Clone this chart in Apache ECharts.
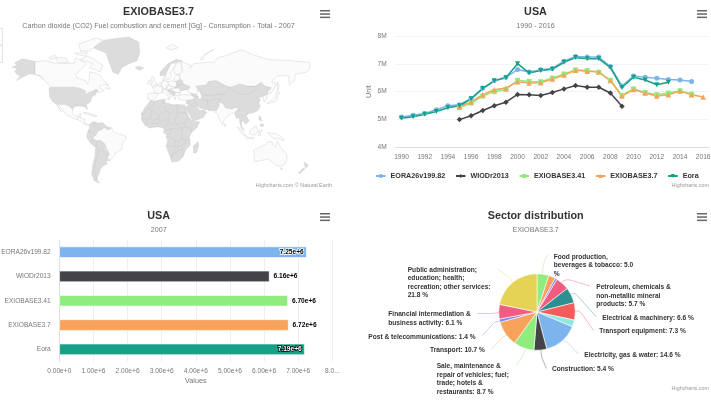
<!DOCTYPE html>
<html>
<head>
<meta charset="utf-8">
<title>USA CO2</title>
<script src="https://cdn.jsdelivr.net/npm/echarts@6/dist/echarts.min.js"></script>
<style>
  html, body { margin: 0; padding: 0; background: #fff; }
  .box { position: absolute; }
</style>
</head>
<body>
<div id="map" class="box" style="left:0;top:0;width:355px;height:200px"></div>
<div id="line" class="box" style="left:355px;top:0;width:356px;height:200px"></div>
<div id="bar" class="box" style="left:0;top:200px;width:355px;height:200px"></div>
<div id="pie" class="box" style="left:355px;top:200px;width:356px;height:200px"></div>
<script>
// line chart
const years = ['1990','1991','1992','1993','1994','1995','1996','1997','1998','1999','2000','2001','2002','2003','2004','2005','2006','2007','2008','2009','2010','2011','2012','2013','2014','2015','2016'];
const eora26 = [5.08,5.15,5.21,5.35,5.49,5.53,5.76,6.13,6.40,6.52,6.80,6.71,6.79,6.84,7.10,7.27,7.25,7.25,6.91,6.20,6.57,6.52,6.48,6.44,6.42,6.37,null];
const wiod = [null,null,null,null,null,4.99,5.13,5.32,5.49,5.62,5.90,5.89,5.86,5.97,6.10,6.22,6.16,6.16,5.95,5.47,null,null,null,null,null,null,null];
const exio341 = [null,null,null,null,null,5.42,5.59,5.84,6.00,6.08,6.41,6.37,6.36,6.49,6.64,6.78,6.76,6.70,6.41,5.86,6.10,5.97,5.89,5.95,6.03,5.91,null];
const exio37 = [null,null,null,null,null,5.47,5.63,5.89,6.07,6.13,6.36,6.31,6.32,6.46,6.60,6.77,6.74,6.72,6.40,5.84,6.08,5.95,5.84,5.89,6.02,5.89,5.81];
const eora = [5.04,5.09,5.18,5.28,5.42,5.49,5.74,6.11,6.39,6.50,7.01,6.67,6.76,6.81,7.06,7.23,7.19,7.19,6.87,6.15,6.52,6.42,6.25,6.34,null,null,null];

// bar chart
const barNames = ['EORA26v199.82','WIODr2013','EXIOBASE3.41','EXIOBASE3.7','Eora'];
const barValues = [7.25e6,6.16e6,6.70e6,6.72e6,7.19e6];
const barColors = ['#7cb5ec','#434348','#90ed7d','#f7a35c','#16a085'];

// pie chart, clockwise from the top
const sectorLabels = [
  'Food production,\nbeverages & tobacco: 5.0\n%','','',
  'Petroleum, chemicals &\nnon-metallic mineral\nproducts: 5.7 %',
  'Electrical & machinery: 6.6 %','Transport equipment: 7.3 %','',
  'Electricity, gas & water: 14.6 %','Construction: 5.4 %',
  'Sale, maintenance &\nrepair of vehicles; fuel;\ntrade; hotels &\nrestaurants: 8.7 %',
  'Transport: 10.7 %','Post & telecommunications: 1.4 %',
  'Financial intermediation &\nbusiness activity: 6.1 %',
  'Public administration;\neducation; health;\nrecreation; other services:\n21.8 %'
];
const sectorValues = [5.0,2.9,0.9,5.7,6.6,7.3,2.9,14.6,5.4,8.7,10.7,1.4,6.1,21.8];
const sectorColors = ['#90ed7d','#f7a35c','#8085e9','#f15c80','#2b908f','#f45b5b','#91e8e1','#7cb5ec','#434348','#90ed7d','#f7a35c','#8085e9','#f15c80','#e4d354'];
// label anchor [x, y of the block centre, align] and leader points for each slice
const pieLabelSpots = [
  [198.7,65.2,'left'],null,null,[241.3,95.7,'left'],[247.3,118.3,'left'],[244.3,131.3,'left'],null,
  [229.3,155,'left'],[197,169.3,'left'],[81.7,179,'left'],[75,150,'left'],[13.3,137,'left'],[33.3,118.5,'left'],[52.7,82.8,'left']
];
const pieLeaders = [
  [[187.5,74],[188.5,63],[192.5,55]],null,null,
  [[206.5,82.5],[212,79],[235,86]],
  [[216.5,94],[220,93],[241.5,117]],
  [[220,111],[225,111],[238.5,130.5]],null,
  [[208.5,140.5],[212,142],[223.5,154]],
  [[186,150],[186.5,157],[191.5,168.5]],
  [[170,150],[168.5,155],[161,166]],
  [[151.5,135],[148,137],[136.5,149]],
  [[145,121.5],[140,121.5],[127.5,135.5]],
  [[143.5,112.5],[138.5,113.5],[122.5,113.5]],
  [[157.5,82.5],[155,78],[142.5,69]]
];

// map regions in lon/lat, split by fill shade
const mapGrey = {
  Alaska: [[-168,65.5],[-162,67],[-165,68.5],[-156,71.3],[-141,69.6],[-141,60],[-135,59],[-130,55],[-134,58],[-140,60],[-148,60.5],[-152,59],[-158,57],[-163,55],[-158,59],[-162,60],[-165,62.5],[-161,64.5]],
  USA: [[-123,49],[-95,49],[-89,48],[-82,45.5],[-83,42],[-79,43.5],[-75,45],[-69,47.2],[-67,45],[-70,43.5],[-70,41.7],[-74,40.5],[-76,37],[-75.5,35.2],[-81,31.5],[-80,26],[-81,25.2],[-83,29],[-89,30],[-94,29.5],[-97,27.5],[-97.2,26],[-101,29.7],[-106,31.8],[-111,31.4],[-117,32.5],[-120.5,34.5],[-124,40],[-124.7,48.3]],
  Greenland: [[-73,78],[-60,82],[-32,83.5],[-20,81],[-19,75],[-22,70],[-32,68],[-40,65],[-44,60],[-50,62],[-54,68],[-58,75]],
  Iceland: [[-24,65.5],[-19,66.3],[-14,65],[-18,63.5],[-22,64]],
  Colombia: [[-77.3,8.5],[-75,11],[-72,12],[-72,7.5],[-67.5,6],[-67,1.5],[-70,-4],[-75,0],[-79,1.5],[-77.5,4]],
  Venezuela: [[-72,12],[-68,10.5],[-62,10.7],[-57,6],[-51.5,4.5],[-56,2],[-60,5],[-64,2],[-67,1.5],[-67.5,6],[-72,7.5]],
  Peru: [[-79,1.5],[-75,0],[-70,-4],[-74,-7.5],[-69,-11],[-69.5,-17.5],[-71,-18],[-76,-14],[-81,-6],[-80,-2.5]],
  Bolivia: [[-69,-11],[-65,-10],[-60,-14],[-58,-18],[-62.5,-22],[-67,-23],[-69.5,-17.5]],
  Paraguay: [[-62.5,-22],[-58,-20],[-55,-24],[-54.5,-27],[-58,-27]],
  Chile: [[-69.5,-17.5],[-67,-23],[-70,-33],[-72,-45],[-68.5,-52],[-66,-55],[-72,-53],[-75,-47],[-73.5,-37],[-71,-28],[-70.3,-18]],
  Argentina: [[-67,-23],[-62.5,-22],[-58,-27],[-54.5,-27],[-58.3,-33],[-57,-37],[-62,-39],[-65,-42],[-66,-46],[-69,-51],[-68.5,-52],[-72,-45],[-70,-33]],
  Uruguay: [[-58,-33.5],[-53.5,-33],[-57,-30.5]],
  Norway: [[5,59],[5,62],[14,68],[24,71],[31,70],[25,69],[18,68.5],[12,61],[11,59]],
  Balkans: [[13.5,46.5],[16,46.8],[19,46],[22.5,44.5],[22.5,41.2],[19.5,41],[19,42],[15,44.5]],
  Ukraine: [[24,50.5],[32,52],[40,49.5],[38,47],[33,46],[30,46],[29.5,45],[27,48],[22,48],[22,49]],
  Belarus: [[23.5,54],[28,56],[31,55],[32,52],[24,50.5]],
  Kazakhstan: [[47,50],[59,51],[61,54],[70,55],[80,51],[87,49],[80,42],[70,42],[66,41],[56,41],[53,42],[51,45],[49,46]],
  CentralAsia: [[53,42],[56,41],[66,41],[70,42],[80,42],[74,37],[67,37],[61,35.5],[54,37.5]],
  Caucasus: [[40,43.5],[47.5,42],[49.5,40],[45,39],[42,41]],
  Iran: [[45,39],[49.5,40],[49,37.5],[54,37.5],[61,35.5],[61,31],[63,26],[57,26],[51,28],[48.5,30],[46,33],[44,37]],
  Iraq: [[36,36],[44,37],[46,33],[48.5,30],[46,29],[39,32],[35.5,32]],
  Arabia: [[35,28],[39,32],[46,29],[48.5,28.5],[51,25],[56,25.5],[59.5,22.5],[55,17],[45,13],[43,13],[39,21]],
  Pakistan: [[61,35.5],[67,37],[74,37],[74,31],[71,25],[67,24.5],[61.5,25],[61,31]],
  China: [[74,37],[80,42],[87,49],[91,45],[97,42.5],[105,42],[111,44],[117,47],[116,50],[123,53.5],[127,50],[135,48.5],[131,45],[130.5,42.5],[125,40],[121,39],[118,39],[122,37],[120,33],[122,30],[119,25],[114,22.5],[108,21.5],[102,22],[98,24],[97,28],[92,28],[88,26.5],[81,28],[79,32],[74,34.5]],
  Mongolia: [[87,49],[98,52],[107,50],[116,50],[117,47],[111,44],[105,42],[97,42.5],[91,45]],
  Myanmar: [[92,22.5],[94,24],[97,28],[98,24],[101,21],[98,15],[98.5,10.5],[97.5,16.5],[94,16]],
  Indochina: [[101,21],[102,22],[108,21.5],[105.5,18.5],[109,13],[105,9],[102.5,12],[100,13.5],[100,7],[103,2],[101,3],[98.5,8],[99,15]],
  Philippines: [[120.5,18.5],[122,18],[124,13],[120.5,14]],
  Mindanao: [[122,9],[126,9],[125,6],[122,7]],
  NZNorth: [[173,-35],[178,-38],[175,-41.5],[174,-39]],
  NZSouth: [[172,-41],[174,-42],[168,-46.5],[166.5,-46]],
  Madagascar: [[49,-12],[50,-16],[47,-25],[44,-25],[44,-17]],
  Morocco: [[-6,35.8],[-2,35],[-1.5,32],[-8.7,28],[-13,21],[-17,21],[-13,27.7],[-9.5,32]],
  Algeria: [[-2,35],[9,37],[8,32],[10,30],[12,24],[3,19],[-5,25],[-8.7,28],[-1.5,32]],
  Tunisia: [[9,37],[11,37],[10.5,33],[8,32]],
  Libya: [[10.5,33],[15,32.5],[20,31],[25,31.5],[25,20],[24,19.5],[15,23],[12,24],[10,30]],
  Egypt: [[25,31.5],[34,31],[36.5,22],[25,22]],
  Sudan: [[25,22],[36.5,22],[38,18],[36,13],[33,10],[24,9],[22,12],[24,19.5],[25,20]],
  Mauritania: [[-17,21],[-13,21],[-8.7,28],[-5,25],[-6,15],[-12,15],[-16.5,16]],
  Mali: [[-5,25],[3,19],[4,15],[-2,15],[-5,10],[-11,12],[-12,15],[-6,15]],
  Niger: [[3,19],[12,24],[15,23],[15,14],[4,13],[4,15]],
  Chad: [[15,23],[24,19.5],[22,12],[24,9],[18,8],[14,12],[15,14]],
  Senegal: [[-16.5,16],[-12,15],[-11,12],[-8,10],[-13,8],[-17,14.5]],
  Burkina: [[-5,10],[-2,15],[4,15],[4,13],[2,10]],
  Ghana: [[-13,8],[-8,10],[-5,10],[2,10],[2,6],[-4,5],[-7.5,4.5]],
  Nigeria: [[2,6],[2,10],[4,13],[15,14],[14,12],[12,7],[9,4.5],[5,5.5]],
  Cameroon: [[9,4.5],[12,7],[14,12],[18,8],[24,9],[30,4.5],[18,3.5],[14,2],[10,2]],
  Gabon: [[10,2],[14,2],[18,3.5],[17,-1],[14,-5],[9,-1]],
  DRC: [[18,3.5],[30,4.5],[31,-1],[30,-8],[28,-12],[22,-11],[16,-6],[12,-6],[14,-5],[17,-1]],
  Ethiopia: [[36,13],[38,18],[43,12],[51,12],[48,5],[41,-1.5],[41,4],[34,5],[33,10]],
  SouthSudan: [[24,9],[33,10],[34,5],[30,4.5]],
  Tanzania: [[30,4.5],[34,5],[41,4],[41,-1.5],[39,-6],[40,-10.5],[34,-10],[30,-8],[31,-1]],
  Angola: [[12,-6],[16,-6],[22,-11],[24,-18],[12,-17],[14,-11]],
  Zambia: [[22,-11],[28,-12],[30,-8],[34,-10],[35,-14],[30,-16],[24,-18]],
  Mozambique: [[34,-10],[40,-10.5],[40,-16],[35,-21],[33,-26],[31,-22],[30,-16],[35,-14]],
  Zimbabwe: [[24,-18],[30,-16],[31,-22],[27,-22]],
  Namibia: [[12,-17],[24,-18],[27,-22],[20,-25],[20,-29],[16.5,-28.5]],
  SouthAfrica: [[16.5,-28.5],[20,-29],[20,-25],[27,-22],[31,-22],[33,-26],[31,-30],[26,-34],[18.5,-34.5]]
};
const mapLight = {
  Canada: [[-141,69.6],[-128,70],[-115,68],[-95,68.5],[-94,72],[-85,69.5],[-81,68],[-87,64],[-94,60],[-92,57],[-82,55],[-80,51.5],[-78,55],[-77,62],[-70,61],[-65,59],[-60,54],[-56,52],[-66,50],[-65,48],[-60,46],[-66,44],[-69,47.2],[-75,45],[-79,43.5],[-83,42],[-82,45.5],[-89,48],[-95,49],[-123,49],[-130,55],[-135,59],[-141,60]],
  Baffin: [[-80,73],[-72,71],[-62,67],[-65,62],[-72,64],[-78,65],[-73,68],[-88,71]],
  Victoria: [[-117,72],[-105,72],[-102,69],[-115,69]],
  Ellesmere: [[-90,80],[-70,83],[-62,82],[-78,76],[-88,76]],
  Banks: [[-125,72],[-118,74],[-116,72],[-123,71]],
  Devon: [[-95,75],[-80,75],[-82,73],[-93,74]],
  Newfoundland: [[-59,48],[-56,51.5],[-53,47]],
  Mexico: [[-117,32.5],[-111,31.4],[-106,31.8],[-101,29.7],[-97.2,26],[-97.8,22],[-95,18.5],[-91,18.8],[-90,21],[-87,21.5],[-88.5,18],[-91,17],[-92.2,14.5],[-96,16],[-105,20],[-109,25.5],[-113,31]],
  Baja: [[-117,32.5],[-115,30],[-110,23],[-112,25.5],[-114.7,31.5]],
  CentralAmerica: [[-92.2,14.5],[-91,17],[-88.5,18],[-88,16],[-83.2,15],[-83.6,11],[-80,9],[-77.3,8.5],[-78,7.5],[-81,7.5],[-85,10],[-87.5,13]],
  Cuba: [[-85,22],[-80,23],[-74,20],[-78,20]],
  Hispaniola: [[-74,19.8],[-69,19.5],[-69,18.3],[-74,18]],
  Brazil: [[-70,-4],[-67,1.5],[-64,2],[-60,5],[-56,2],[-51.5,4.5],[-50,0],[-44,-2.5],[-35,-5.5],[-35,-9],[-39,-14],[-40,-21],[-48,-25.5],[-48.5,-28],[-53.5,-33],[-57,-30.5],[-54.5,-27],[-55,-24],[-58,-20],[-58,-18],[-60,-14],[-65,-10],[-69,-11],[-74,-7.5]],
  Svalbard: [[12,78],[20,80],[26,78],[17,76.8]],
  UK: [[-5.5,50],[1.5,51.5],[-1.5,55],[-3,58.5],[-6,57],[-3.5,54],[-5,52]],
  Ireland: [[-10,52],[-6,52],[-6,55],[-9,54.5]],
  Iberia: [[-9,37],[-9.3,43],[-2,43.5],[3,42.3],[0,39],[-2,37],[-5.5,36]],
  France: [[-2,43.5],[-1.3,46],[-4.5,48.5],[2,51],[8,49],[7.5,44],[3,43]],
  Benelux: [[2,51],[4,52.5],[7,53.5],[6,50],[8,49]],
  Germany: [[7,53.5],[9,54.8],[14,54],[15,51],[12,50],[13.5,48.5],[10,47.5],[7.5,47.6],[8,49],[6,50]],
  Denmark: [[8,55],[8.3,57],[10.5,57.5],[10,55]],
  Sweden: [[11,59],[12,61],[18,68.5],[24,68],[22,65.8],[17,61],[18.5,59],[16,56],[13,55.5]],
  Finland: [[22,65.8],[24,68],[25,69],[29,69.5],[31,63],[28,60.5],[22.5,60],[21,62.5]],
  Baltics: [[21,55],[21,57],[24,59.5],[28,59.5],[28,56],[23.5,54]],
  Poland: [[14,54],[19,54.5],[23.5,54],[24,50.5],[22,49],[19,49.5],[15,51]],
  Austria: [[12,50],[15,51],[19,49.5],[22,49],[22,48],[17,47.8],[16,46.8],[10,47],[10,47.5],[13.5,48.5]],
  Italy: [[7,44],[7.5,46],[10,47],[13.5,46.5],[12.3,44.5],[16,41.7],[18.5,40],[16,38],[15.5,40],[12.5,41.5],[10,43.5]],
  Sicily: [[12.5,38],[15.5,38.2],[15,36.7]],
  Romania: [[16,46.8],[17,47.8],[22,48],[27,48],[29.5,45],[28.5,43.7],[23,44],[22.5,44.5],[19,46]],
  Greece: [[22.5,44],[28.5,43.7],[28,41.5],[24,41],[23,38],[22.5,36.5],[20.5,39.5],[22.5,41.2]],
  Russia: [[28,60.5],[31,63],[29,69.5],[41,67],[40,65],[44,68],[60,69],[68,69],[72,72],[80,73],[100,77],[113,74],[130,71],[160,70],[180,69],[180,65],[177,62],[163,60],[162,55],[156,51],[155,59],[142,59],[135,54],[141,52],[135,43.5],[130.5,42.5],[131,45],[135,48.5],[127,50],[123,53.5],[116,50],[107,50],[98,52],[87,49],[80,51],[70,55],[61,54],[59,51],[47,50],[49,46],[47.5,42],[40,43.5],[37,45],[38,47],[40,49.5],[32,52],[31,55],[28,56],[28,59.5]],
  Sakhalin: [[142,54],[144,49],[142,46],[142,50]],
  NovayaZemlya: [[52,71],[56,74],[68,77],[60,75],[55,71]],
  Turkey: [[26,40],[28,41.5],[35,42],[42,41],[45,39],[44,37],[36,36],[30,36.3],[27,37]],
  India: [[74,34.5],[79,32],[81,28],[88,26.5],[92,28],[97,28],[94,24],[92,22.5],[88,21.5],[80,15],[78,8],[73,17],[72.5,21],[69,22.5],[71,25],[74,31]],
  SriLanka: [[80,9.5],[82,7],[80.5,6]],
  Korea: [[125,40],[130.5,42.5],[129,36],[126.5,34.5]],
  Honshu: [[130,32],[131,34],[136,36],[140,40],[141.5,41],[142,38],[140,35],[135,33.5]],
  Hokkaido: [[140,42],[142,45.5],[145,43.5],[142,42]],
  Sumatra: [[95,5.5],[98,4],[104,-2],[106,-6],[102,-4]],
  Java: [[105.5,-6.5],[114,-7],[114,-8.5],[106,-7.7]],
  Borneo: [[109,1],[117,7],[119,1],[116,-4],[110,-3]],
  Sulawesi: [[120,1],[125,1.5],[122,-1],[122,-5],[120,-5]],
  NewGuinea: [[131,-1],[141,-2.5],[147,-6],[150,-10.5],[143,-8.5],[138,-8],[133,-4]],
  Australia: [[114,-22],[122,-18],[129,-15],[131,-12],[136,-12],[136,-15],[140,-17.5],[142,-11],[146,-19],[153,-26],[153,-32],[150,-37.5],[146,-39],[140,-38],[136,-35],[131,-31.5],[124,-33],[115,-34.5],[115,-27]],
  Tasmania: [[145,-41],[148,-41],[147,-43.5]]
};

// ---- shared pieces
const FONT = '"Liberation Sans", Arial, sans-serif';

function heading(text, subtext, x, y) {
  return [
    { text: text, left: x, top: y, textAlign: 'center', padding: 0,
      textStyle: { fontFamily: FONT, fontSize: 10.8, fontWeight: 'bold', color: '#333' } },
    { text: subtext, left: x, top: y + 16, textAlign: 'center', padding: 0,
      textStyle: { fontFamily: FONT, fontSize: 7.2, fontWeight: 'normal', color: '#777' } }
  ];
}

function credits(text, x, y) {
  return { type: 'text', right: x, top: y, silent: true,
    style: { text: text, fontFamily: FONT, fontSize: 5.4, fill: '#999' } };
}

// the three bar export button
function menuIcon(x, y) {
  return [0, 1, 2].map(function (i) {
    return { type: 'rect', left: x, top: y + i * 3.3, silent: true,
      shape: { width: 10, height: 1.5 }, style: { fill: '#666' } };
  });
}

// ---- map
function buildFeatures(group) {
  return Object.keys(group).map(function (name) {
    const ring = group[name].concat([group[name][0]]);
    return { type: 'Feature', properties: { name: name }, geometry: { type: 'Polygon', coordinates: [ring] } };
  });
}
echarts.registerMap('world', { type: 'FeatureCollection', features: buildFeatures(mapGrey).concat(buildFeatures(mapLight)) });

// Miller projection, the world map in the reference is close to it
const miller = {
  project: function (p) {
    return [p[0], -1.25 * Math.log(Math.tan(Math.PI / 4 + 0.4 * p[1] * Math.PI / 180)) * 180 / Math.PI];
  },
  unproject: function (p) {
    return [p[0], (Math.atan(Math.exp(-p[1] * Math.PI / 180 / 1.25)) - Math.PI / 4) / 0.4 * 180 / Math.PI];
  }
};

const mapData = Object.keys(mapGrey).map(function (n) {
  return { name: n, itemStyle: { areaColor: '#dcdcdc' } };
}).concat(Object.keys(mapLight).map(function (n) {
  return { name: n, itemStyle: { areaColor: '#fbfbfb' } };
}));

const mapChart = echarts.init(document.getElementById('map'));
mapChart.setOption({
  animation: false,
  title: heading('EXIOBASE3.7', 'Carbon dioxide (CO2) Fuel combustion and cement [Gg] - Consumption - Total - 2007', 158.5, 7),
  graphic: menuIcon(320, 10).concat([
    credits('Highcharts.com © Natural Earth', 23, 183),
    { type: 'rect', left: -8, top: 28, silent: true, shape: { width: 10, height: 17 }, style: { fill: '#fff', stroke: '#ccc', lineWidth: 0.6 } },
    { type: 'rect', left: -8, top: 45, silent: true, shape: { width: 10, height: 17 }, style: { fill: '#fff', stroke: '#ccc', lineWidth: 0.6 } }
  ]),
  series: [{
    type: 'map',
    map: 'world',
    projection: miller,
    left: 12, top: 37, width: 298, height: 146,
    silent: true,
    label: { show: false },
    itemStyle: { borderColor: '#c8c8c8', borderWidth: 0.4 },
    data: mapData
  }]
});

// ---- line
const lineSeries = [
  { name: 'EORA26v199.82', data: eora26, color: barColors[0], symbol: 'circle', symbolSize: 5 },
  { name: 'WIODr2013', data: wiod, color: barColors[1], symbol: 'diamond', symbolSize: 5.5 },
  { name: 'EXIOBASE3.41', data: exio341, color: barColors[2], symbol: 'rect', symbolSize: 5 },
  { name: 'EXIOBASE3.7', data: exio37, color: barColors[3], symbol: 'triangle', symbolSize: 5.5 },
  { name: 'Eora', data: eora, color: barColors[4], symbol: 'triangle', symbolRotate: 180, symbolSize: 5 }
].map(function (s) {
  s.type = 'line';
  s.data = s.data.map(function (v) { return v === null ? null : v * 1e6; });
  s.itemStyle = { color: s.color };
  s.lineStyle = { color: s.color, width: 1.5 };
  return s;
});

const lineChart = echarts.init(document.getElementById('line'));
lineChart.setOption({
  animation: false,
  title: heading('USA', '1990 - 2016', 180.5, 7),
  graphic: menuIcon(342, 10).concat([credits('Highcharts.com', 2, 183)]),
  legend: {
    left: 20, top: 172.5, padding: 0, itemWidth: 9.5, itemHeight: 5, itemGap: 9.7,
    textStyle: { fontFamily: FONT, fontSize: 7.2, fontWeight: 'bold', color: '#333' },
    data: lineSeries.map(function (s) { return s.name; })
  },
  grid: { left: 40.7, top: 36.3, width: 313.3, height: 110.7, outerBoundsMode: 'none' },
  xAxis: {
    type: 'category', data: years, boundaryGap: true,
    axisLine: { lineStyle: { color: '#ccd6eb', width: 0.7 } },
    axisTick: { show: false },
    axisLabel: { interval: 1, fontFamily: FONT, fontSize: 6.6, color: '#777', margin: 7 }
  },
  yAxis: {
    type: 'value', min: 4e6, max: 8e6, interval: 1e6,
    name: 'Unit', nameLocation: 'middle', nameGap: 23, nameRotate: 90, nameMoveOverlap: false,
    nameTextStyle: { fontFamily: FONT, fontSize: 7.2, color: '#777' },
    axisLabel: { fontFamily: FONT, fontSize: 6.6, color: '#777', margin: 9, formatter: function (v) { return v / 1e6 + 'M'; } },
    splitLine: { lineStyle: { color: '#eeeeee', width: 0.7 } }
  },
  series: lineSeries
});

// ---- bar
function sciLabel(v) {
  return v === 0 ? '0.00e+0' : (v / 1e6).toFixed(2) + 'e+6';
}

const barData = barValues.map(function (v, i) {
  // the two longest bars carry their value inside the bar end
  const inside = v > 7e6;
  const dark = i === 4;
  return {
    value: v,
    itemStyle: { color: barColors[i] },
    label: {
      position: inside ? 'insideRight' : 'right',
      distance: inside ? 3 : 4,
      color: dark ? '#fff' : '#000',
      textBorderColor: dark ? '#000' : '#fff',
      textBorderWidth: 1.5
    }
  };
});

const barChart = echarts.init(document.getElementById('bar'));
barChart.setOption({
  animation: false,
  title: heading('USA', '2007', 158.7, 10.3),
  graphic: menuIcon(320, 13),
  grid: { left: 59.3, top: 40, width: 273, height: 121.5, outerBoundsMode: 'none' },
  xAxis: {
    type: 'value', min: 0, max: 8e6, interval: 1e6,
    name: 'Values', nameLocation: 'middle', nameGap: 16, nameMoveOverlap: false,
    nameTextStyle: { fontFamily: FONT, fontSize: 7.2, color: '#777' },
    axisLabel: {
      fontFamily: FONT, fontSize: 6.6, color: '#777', margin: 6,
      formatter: function (v) { return v === 8e6 ? '8.0...' : sciLabel(v); }
    },
    splitLine: { lineStyle: { color: '#e6e6e6', width: 0.7 } }
  },
  yAxis: {
    type: 'category', inverse: true, data: barNames,
    axisLine: { show: true, lineStyle: { color: '#ccd6eb', width: 0.7 } },
    axisTick: { show: false },
    axisLabel: { fontFamily: FONT, fontSize: 6.6, color: '#777', margin: 8.6 }
  },
  series: [{
    type: 'bar', barWidth: 11.3,
    itemStyle: { borderColor: '#fff', borderWidth: 0.6 },
    label: {
      show: true, fontFamily: FONT, fontSize: 6.6, fontWeight: 'bold',
      formatter: function (p) { return sciLabel(p.value); }
    },
    data: barData
  }]
});

// ---- pie
const pieData = sectorValues.map(function (v, i) {
  return {
    value: v,
    name: sectorLabels[i] || 'Slice ' + i,
    itemStyle: { color: sectorColors[i] },
    label: { show: !!sectorLabels[i] },
    labelLine: { show: !!sectorLabels[i] }
  };
});

const pieChart = echarts.init(document.getElementById('pie'));
pieChart.setOption({
  animation: false,
  title: heading('Sector distribution', 'EXIOBASE3.7', 180.7, 10.3),
  graphic: menuIcon(342, 13).concat([credits('Highcharts.com', 2, 186)]),
  series: [{
    type: 'pie',
    center: [182, 112],
    radius: [0, 38.3],
    startAngle: 90,
    clockwise: true,
    silent: true,
    itemStyle: { borderColor: '#fff', borderWidth: 0.6 },
    label: {
      fontFamily: FONT, fontSize: 6.6, fontWeight: 'bold', color: '#333', lineHeight: 8.5, overflow: 'none',
      formatter: function (p) { return sectorLabels[p.dataIndex]; }
    },
    labelLine: { smooth: 0.3, lineStyle: { width: 0.7, opacity: 0.6 } },
    labelLayout: function (p) {
      const spot = pieLabelSpots[p.dataIndex];
      if (!spot) { return {}; }
      return {
        x: spot[0], y: spot[1], align: spot[2], verticalAlign: 'middle',
        labelLinePoints: pieLeaders[p.dataIndex]
      };
    },
    data: pieData
  }]
});
</script>
</body>
</html>
